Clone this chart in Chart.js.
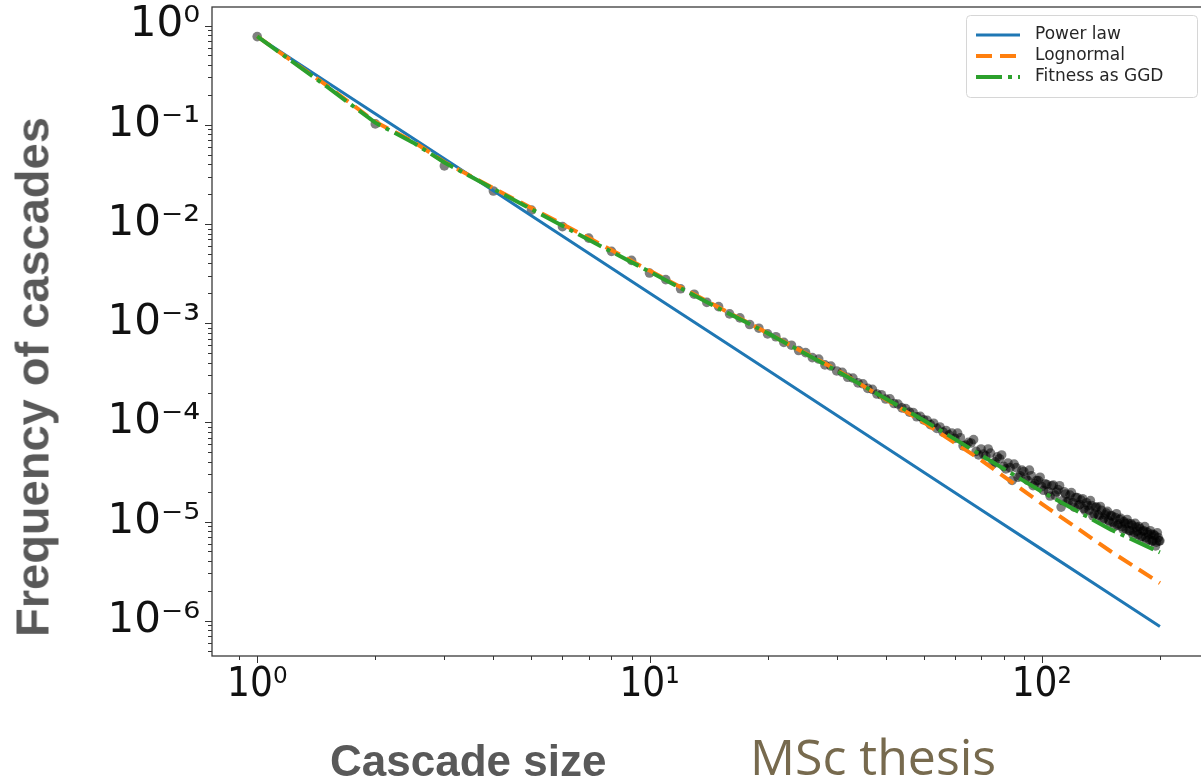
<!DOCTYPE html>
<html>
<head>
<meta charset="utf-8">
<script src="https://cdn.jsdelivr.net/npm/chart.js@4.4.1/dist/chart.umd.min.js"></script>
<style>
html,body{margin:0;padding:0;width:1201px;height:777px;overflow:hidden;background:#fff;}
#wrap{position:absolute;left:0;top:0;width:1215px;height:777px;}
.ttl{position:absolute;white-space:nowrap;line-height:1;}
#ytitle{left:32px;top:377px;transform:translate(-50%,-50%) rotate(-90deg);font:bold 47px "Liberation Sans",Arial,sans-serif;color:#595959;}
#xtitle{left:330px;top:736px;font:bold 44px "Liberation Sans",Arial,sans-serif;color:#595959;}
#note{left:750px;top:722px;font:50px "Open Sans",sans-serif;color:#776a4e;}
</style>
</head>
<body>
<div id="wrap"><canvas id="c" width="1215" height="777"></canvas></div>
<div class="ttl" id="ytitle">Frequency of cascades</div>
<div class="ttl" id="xtitle">Cascade size</div>
<div class="ttl" id="note">MSc thesis</div>
<script>
// ---- data ----
const cascadeSize = [];
for (let s = 1; s <= 200; s++) cascadeSize.push(s);   // every size 1..200
const cascadeFreq = [
  0.774,0.102,0.0385,0.0215,0.0138,0.0094,0.0072,0.0053,0.0043,0.0032,                 // 1-10
  0.00275,0.00222,0.00196,0.00162,0.00147,0.00124,0.00113,0.00097,0.00089,0.00078,     // 11-20
  7.3e-4,6.4e-4,6.0e-4,5.3e-4,5.05e-4,4.5e-4,4.35e-4,3.8e-4,3.7e-4,3.3e-4,             // 21-30
  3.2e-4,2.85e-4,2.8e-4,2.5e-4,2.45e-4,2.2e-4,2.15e-4,1.93e-4,1.9e-4,1.72e-4,          // 31-40
  1.73e-4,1.55e-4,1.53e-4,1.40e-4,1.38e-4,1.27e-4,1.26e-4,1.14e-4,1.15e-4,1.06e-4,     // 41-50
  1.05e-4,9.5e-5,9.8e-5,8.7e-5,9.0e-5,8.0e-5,8.3e-5,7.5e-5,7.8e-5,6.9e-5,              // 51-60
  7.8e-5,7.0e-5,5.8e-5,5.9e-5,6.3e-5,6.2e-5,6.7e-5,5.1e-5,4.7e-5,5.4e-5,               // 61-70
  4.8e-5,4.6e-5,5.4e-5,4.9e-5,3.8e-5,4.0e-5,4.5e-5,4.3e-5,4.7e-5,3.6e-5,               // 71-80
  3.4e-5,3.9e-5,3.5e-5,2.6e-5,3.8e-5,3.5e-5,2.8e-5,2.9e-5,3.3e-5,3.2e-5,               // 81-90
  2.75e-5,2.6e-5,3.3e-5,2.9e-5,2.3e-5,2.4e-5,2.6e-5,2.6e-5,2.8e-5,2.25e-5,             // 91-100
  2.07e-5,2.4e-5,2.37e-5,2.0e-5,1.81e-5,2.3e-5,2.33e-5,1.85e-5,1.99e-5,2.1e-5,         // 101-110
  2.3e-5,1.4e-5,1.63e-5,2.0e-5,1.9e-5,1.6e-5,1.61e-5,1.85e-5,1.96e-5,1.55e-5,          // 111-120
  1.4e-5,1.75e-5,1.75e-5,1.45e-5,1.49e-5,1.65e-5,1.7e-5,1.35e-5,1.29e-5,1.55e-5,       // 121-130
  1.45e-5,1.3e-5,1.63e-5,1.45e-5,1.14e-5,1.2e-5,1.39e-5,1.4e-5,1.17e-5,1.15e-5,        // 131-140
  1.42e-5,1.3e-5,1.03e-5,1.08e-5,1.17e-5,1.22e-5,1.27e-5,1.03e-5,9.9e-6,1.15e-5,       // 141-150
  1.14e-5,9.8e-6,8.9e-6,1.1e-5,1.2e-5,9.2e-6,9.5e-6,1.05e-5,1.08e-5,8.9e-6,            // 151-160
  8.4e-6,1.0e-5,9.6e-6,8.4e-6,1.05e-5,9.6e-6,8.1e-6,8.1e-6,9.5e-6,9.2e-6,              // 161-170
  7.3e-6,7.8e-6,9.6e-6,8.8e-6,8.0e-6,7.4e-6,8.9e-6,8.5e-6,7.0e-6,7.1e-6,               // 171-180
  8.0e-6,8.1e-6,8.9e-6,6.9e-6,6.4e-6,7.8e-6,7.4e-6,6.6e-6,8.1e-6,7.5e-6,               // 181-190
  6.4e-6,6.4e-6,7.4e-6,7.2e-6,5.7e-6,6.2e-6,7.7e-6,6.9e-6,6.4e-6,6.4e-6                // 191-200
];

const fitSize    = [1,1.5,2,2.5,3,4,5,7,10,15,20,30,50,70,100,150,200];
const powerLaw   = [0.776,0.272,0.129,0.0726,0.0454,0.0216,0.0121,0.00508,0.00202,7.08e-4,3.37e-4,1.18e-4,3.15e-5,1.32e-5,5.25e-6,1.84e-6,8.75e-7];
const lognormal  = [0.776,0.251,0.107,0.0676,0.0422,0.0229,0.0145,0.00724,0.00339,0.00145,7.94e-4,3.39e-4,1.0e-4,4.17e-5,1.51e-5,5.0e-6,2.4e-6];
const fitnessGGD = [0.776,0.245,0.105,0.066,0.0417,0.0226,0.0141,0.00692,0.00331,0.00141,7.94e-4,3.31e-4,1.05e-4,4.68e-5,2.0e-5,8.3e-6,4.9e-6];

const seriesLabels = ['Power law','Lognormal','Fitness as GGD'];
const xTickDecades = [1,10,100];
const yTickDecades = [1,1e-1,1e-2,1e-3,1e-4,1e-5,1e-6];

// ---- helpers ----
const SUP = {'0':'\u2070','1':'\u00B9','2':'\u00B2','3':'\u00B3','4':'\u2074','5':'\u2075','6':'\u2076','7':'\u2077','8':'\u2078','9':'\u2079','-':'\u207B'};
function decadeLabel(v, list){
  for (const d of list){
    if (Math.abs(v/d - 1) < 1e-6){
      const e = String(Math.round(Math.log10(d)));
      return '10' + e.split('').map(c=>SUP[c]).join('');
    }
  }
  return '';
}
const pts = (xs, ys) => xs.map((x,i)=>({x, y: ys[i]}));

const axesDeco = {
  id: 'axesDeco',
  afterDraw(chart){
    const {ctx, chartArea:a, scales} = chart;
    ctx.save();
    ctx.strokeStyle = '#333';
    ctx.lineWidth = 1;
    const isNice = v => { const e = Math.floor(Math.log10(v)+1e-9); const s = v/Math.pow(10,e); return Math.abs(s-Math.round(s))<1e-6; };
    const isMajor = v => { const e = Math.log10(v); return Math.abs(e-Math.round(e))<1e-6; };
    scales.x.ticks.forEach(t=>{
      if(!isNice(t.value)) return;
      const px = Math.round(scales.x.getPixelForValue(t.value))+0.5;
      if(px < a.left || px > a.right) return;
      ctx.beginPath(); ctx.moveTo(px, a.bottom); ctx.lineTo(px, a.bottom + (isMajor(t.value)?7:4)); ctx.stroke();
    });
    scales.y.ticks.forEach(t=>{
      if(!isNice(t.value)) return;
      const py = Math.round(scales.y.getPixelForValue(t.value))+0.5;
      if(py < a.top || py > a.bottom) return;
      ctx.beginPath(); ctx.moveTo(a.left, py); ctx.lineTo(a.left - (isMajor(t.value)?7:4), py); ctx.stroke();
    });
    ctx.lineWidth = 1.3;
    ctx.strokeStyle = '#3a3a3a';
    ctx.strokeRect(a.left, a.top, a.right-a.left, a.bottom-a.top);
    ctx.restore();
  }
};

const boxLegend = {
  id: 'boxLegend',
  afterDraw(chart){
    const {ctx, chartArea:a} = chart;
    const items = chart.data.datasets.filter(d => d.showLine);
    const w = 231, h = 82, rowH = 21;
    const x0 = a.right - 8 - w, y0 = a.top + 8;
    ctx.save();
    ctx.fillStyle = 'rgba(255,255,255,0.85)';
    ctx.strokeStyle = '#d6d6d6';
    ctx.lineWidth = 1;
    ctx.beginPath();
    if (ctx.roundRect) ctx.roundRect(x0+0.5, y0+0.5, w, h, 4); else ctx.rect(x0+0.5,y0+0.5,w,h);
    ctx.fill(); ctx.stroke();
    items.forEach((d,i)=>{
      const yy = y0 + 20 + i*rowH;
      ctx.strokeStyle = d.borderColor;
      ctx.lineWidth = d.borderWidth;
      ctx.setLineDash(d.borderDash || []);
      ctx.beginPath(); ctx.moveTo(x0+10, yy); ctx.lineTo(x0+54, yy); ctx.stroke();
      ctx.setLineDash([]);
      ctx.fillStyle = '#262626';
      ctx.font = '17px "DejaVu Sans"';
      ctx.textBaseline = 'middle';
      ctx.textAlign = 'left';
      ctx.fillText(d.label, x0+69, yy);
    });
    ctx.restore();
  }
};

new Chart(document.getElementById('c'), {
  type: 'scatter',
  data: {
    datasets: [
      {label: seriesLabels[0], data: pts(fitSize, powerLaw), showLine:true, borderColor:'#1f77b4', borderWidth:3, pointRadius:0, order:3},
      {label: seriesLabels[1], data: pts(fitSize, lognormal), showLine:true, borderColor:'#ff7f0e', borderWidth:4, borderDash:[16,8], pointRadius:0, order:2},
      {label: seriesLabels[2], data: pts(fitSize, fitnessGGD), showLine:true, borderColor:'#2ca02c', borderWidth:4, borderDash:[26,6,4,6], pointRadius:0, order:1},
      {label: 'data', data: pts(cascadeSize, cascadeFreq), showLine:false, pointRadius:4.8, pointBackgroundColor:'rgba(0,0,0,0.5)', pointBorderWidth:0, pointHoverRadius:4.8, order:4}
    ]
  },
  options: {
    responsive: false,
    animation: false,
    layout: {padding: {top:7, right:10, bottom:0, left:0}},
    plugins: {legend:{display:false}, tooltip:{enabled:false}},
    scales: {
      x: {
        type:'logarithmic', position:'bottom',
        min: 0.767, max: 260.6,
        grid:{display:false, drawTicks:false},
        border:{display:false},
        ticks:{autoSkip:false, maxRotation:0, padding:6, color:'#111',
               font:{family:'"DejaVu Sans Condensed","DejaVu Sans"', size:40},
               callback:(v)=>decadeLabel(v, xTickDecades)},
        afterFit(s){ s.height = 121; s.paddingLeft = 0; s.paddingRight = 0; }
      },
      y: {
        type:'logarithmic', position:'left',
        min: 4.42e-7, max: 1.538,
        grid:{display:false, drawTicks:false},
        border:{display:false},
        ticks:{autoSkip:false, padding:12, color:'#111',
               font:{family:'"DejaVu Sans"', size:42},
               callback:(v)=>decadeLabel(v, yTickDecades)},
        afterFit(s){ s.width = 212; s.paddingTop = 0; s.paddingBottom = 0; }
      }
    }
  },
  plugins: [axesDeco, boxLegend]
});
</script>
</body>
</html>
